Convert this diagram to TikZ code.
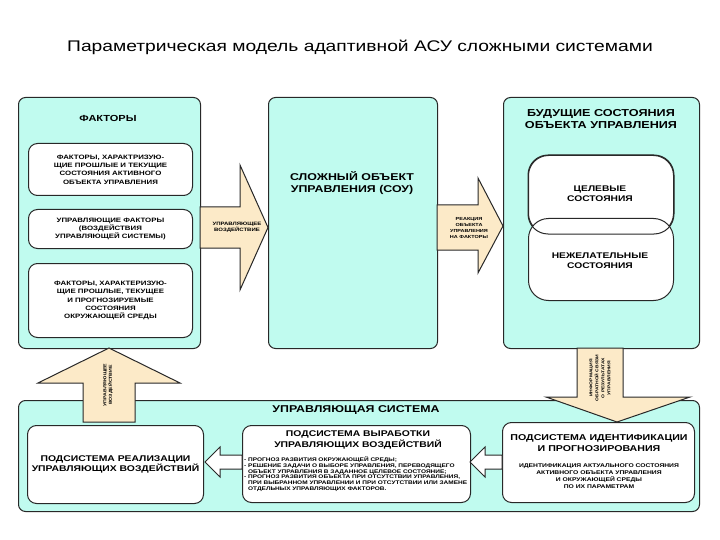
\documentclass[tikz,border=0pt]{standalone}
\usepackage{fontspec}
\setmainfont{Liberation Sans}[FakeStretch=1.25]
\definecolor{cyanbg}{RGB}{192,251,239}
\definecolor{beige}{RGB}{252,234,200}
\definecolor{lineclr}{RGB}{40,40,40}
\begin{document}
\begin{tikzpicture}[x=1pt,y=-1pt,
  panel/.style={draw=lineclr, line width=1pt, fill=cyanbg, rounded corners=7pt, anchor=north west, inner sep=0pt},
  wbox/.style={draw=lineclr, line width=1pt, fill=white, rounded corners=9pt, anchor=north west, inner sep=0pt},
  ebox/.style={draw=lineclr, line width=1pt, fill=white, rounded corners=20pt, anchor=north west, inner sep=0pt},
  barrow/.style={draw=lineclr, line width=1pt, fill=beige, line join=miter},
  warrow/.style={draw=lineclr, line width=1pt, fill=white, line join=miter},
  hdr/.style={font=\fontsize{9.9}{11.5}\selectfont\bfseries, align=center, inner sep=0pt},
  subhdr/.style={font=\fontsize{8.3}{10.5}\selectfont\bfseries, align=center, inner sep=0pt},
  sub/.style={font=\fontsize{8.2}{10}\selectfont\bfseries, align=center, inner sep=0pt},
  boxtxt/.style={font=\fontsize{6.3}{8.3}\selectfont\bfseries, align=center, inner sep=0pt},
  tiny/.style={font=\fontsize{4.8}{6}\selectfont\bfseries, align=center, inner sep=0pt},
  tinyl/.style={font=\fontsize{5.2}{5.8}\selectfont\bfseries, align=left, inner sep=0pt}
]
\useasboundingbox (0,0) rectangle (720,540);
\fill[white] (0,0) rectangle (720,540);

% title
\node[inner sep=0pt] (title) at (360,47) {\fontsize{15.4}{18}\selectfont Параметрическая модель адаптивной АСУ сложными системами};

% top panels
\node[panel, minimum width=182, minimum height=251] (fac) at (18,97) {};
\node[panel, minimum width=169, minimum height=251] (sou) at (268,97) {};
\node[panel, minimum width=196, minimum height=251] (fut) at (503,97) {};

% bottom panel
\node[panel, minimum width=681, minimum height=111] (sys) at (18,400) {};

% factors panel content
\node[hdr, font=\fontsize{8.8}{11}\selectfont\bfseries] (facT) at (108,118) {ФАКТОРЫ};
\node[wbox, minimum width=164, minimum height=52] (f1) at (28,143) {};
\node[boxtxt] at (f1.center) {ФАКТОРЫ, ХАРАКТРИЗУЮ-\\ЩИЕ ПРОШЛЫЕ И ТЕКУЩИЕ\\СОСТОЯНИЯ АКТИВНОГО\\ОБЪЕКТА УПРАВЛЕНИЯ};
\node[wbox, minimum width=164, minimum height=39] (f2) at (28,209) {};
\node[boxtxt] at (f2.center) {УПРАВЛЯЮЩИЕ ФАКТОРЫ\\(ВОЗДЕЙСТВИЯ\\УПРАВЛЯЮЩЕЙ СИСТЕМЫ)};
\node[wbox, minimum width=164, minimum height=74] (f3) at (28,263) {};
\node[boxtxt] at (f3.center) {ФАКТОРЫ, ХАРАКТЕРИЗУЮ-\\ЩИЕ ПРОШЛЫЕ, ТЕКУЩЕЕ\\И ПРОГНОЗИРУЕМЫЕ\\СОСТОЯНИЯ\\ОКРУЖАЮЩЕЙ СРЕДЫ};

% SOU
\node[hdr] (souT) at (352,183) {СЛОЖНЫЙ ОБЪЕКТ\\УПРАВЛЕНИЯ (СОУ)};

% future states
\node[hdr, font=\fontsize{10.1}{11.5}\selectfont\bfseries] (futT) at (601,119) {БУДУЩИЕ СОСТОЯНИЯ\\ОБЪЕКТА УПРАВЛЕНИЯ};
\node[ebox, minimum width=145, minimum height=78] (goal) at (528,155) {};
\node[ebox, minimum width=145, minimum height=82] (bad) at (528,218) {};
\draw[line width=1pt, draw=lineclr, rounded corners=20pt] (goal.north west) rectangle (goal.south east);
\node[sub] at (600,194) {ЦЕЛЕВЫЕ\\СОСТОЯНИЯ};
\node[sub] at (600,261) {НЕЖЕЛАТЕЛЬНЫЕ\\СОСТОЯНИЯ};

% horizontal block arrows
\draw[barrow] (200,207) -- (240,207) -- (240,165) -- (268,227.5) -- (240,290) -- (240,248) -- (200,248) -- cycle;
\node[tiny] (a1) at (237,227) {УПРАВЛЯЮЩЕЕ\\ВОЗДЕЙСТВИЕ};
\draw[barrow] (437,205) -- (478,205) -- (478,178) -- (503,226) -- (478,273) -- (478,250) -- (437,250) -- cycle;
\node[tiny, font=\fontsize{4.4}{5.8}\selectfont\bfseries] (a2) at (469,228) {РЕАКЦИЯ\\ОБЪЕКТА\\УПРАВЛЕНИЯ\\НА ФАКТОРЫ};

% bottom panel content
\node[hdr] (sysT) at (356,410) {УПРАВЛЯЮЩАЯ СИСТЕМА};
\node[wbox, minimum width=176, minimum height=78] (s1) at (27,425) {};
\node[subhdr] at (s1.center) {ПОДСИСТЕМА РЕАЛИЗАЦИИ\\УПРАВЛЯЮЩИХ ВОЗДЕЙСТВИЙ};
\node[wbox, minimum width=228, minimum height=77] (s2) at (242,425) {};
\node[subhdr] at (358,440) {ПОДСИСТЕМА ВЫРАБОТКИ\\УПРАВЛЯЮЩИХ ВОЗДЕЙСТВИЙ};
\node[tinyl, anchor=north west] at (244,456.5) {- ПРОГНОЗ РАЗВИТИЯ ОКРУЖАЮЩЕЙ СРЕДЫ;\\
- РЕШЕНИЕ ЗАДАЧИ О ВЫБОРЕ УПРАВЛЕНИЯ, ПЕРЕВОДЯЩЕГО\\
\phantom{- }ОБЪЕКТ УПРАВЛЕНИЯ В ЗАДАННОЕ ЦЕЛЕВОЕ СОСТОЯНИЕ;\\
- ПРОГНОЗ РАЗВИТИЯ ОБЪЕКТА ПРИ ОТСУТСТВИИ УПРАВЛЕНИЯ,\\
\phantom{- }ПРИ ВЫБРАННОМ УПРАВЛЕНИИ И ПРИ ОТСУТСТВИИ ИЛИ ЗАМЕНЕ\\
\phantom{- }ОТДЕЛЬНЫХ УПРАВЛЯЮЩИХ ФАКТОРОВ.};
\node[wbox, minimum width=192, minimum height=80] (s3) at (502,422) {};
\node[subhdr, font=\fontsize{8.5}{10.5}\selectfont\bfseries] at (599,443) {ПОДСИСТЕМА ИДЕНТИФИКАЦИИ\\И ПРОГНОЗИРОВАНИЯ};
\node[tiny, font=\fontsize{5.4}{6.8}\selectfont\bfseries] at (599,476) {ИДЕНТИФИКАЦИЯ АКТУАЛЬНОГО СОСТОЯНИЯ\\АКТИВНОГО ОБЪЕКТА УПРАВЛЕНИЯ\\И ОКРУЖАЮЩЕЙ СРЕДЫ\\ПО ИХ ПАРАМЕТРАМ};

% white arrows in bottom panel
\draw[warrow] (242,455) -- (220,455) -- (220,447) -- (205,462) -- (220,477) -- (220,469) -- (242,469) -- cycle;
\draw[warrow] (502,455) -- (485,455) -- (485,447) -- (470,462) -- (485,477) -- (485,469) -- (502,469) -- cycle;

% vertical block arrows
\draw[barrow] (83,422) -- (83,383) -- (38,383) -- (109,348) -- (180,383) -- (135,383) -- (135,422) -- cycle;
\node[tiny, rotate=90, font=\fontsize{4.2}{5.5}\selectfont\bfseries] (a3) at (108,385) {УПРАВЛЯЮЩЕЕ\\ВОЗДЕЙСТВИЕ};
\draw[barrow] (577,348) -- (577,397) -- (546,397) -- (617,422) -- (690,397) -- (623,397) -- (623,348) -- cycle;
\node[tiny, rotate=90, font=\fontsize{4.0}{6}\selectfont\bfseries] (a4) at (600,378) {ИНФОРМАЦИЯ\\ОБРАТНОЙ СВЯЗИ\\О РЕЗУЛЬТАТАХ\\УПРАВЛЕНИЯ};
\end{tikzpicture}
\end{document}
